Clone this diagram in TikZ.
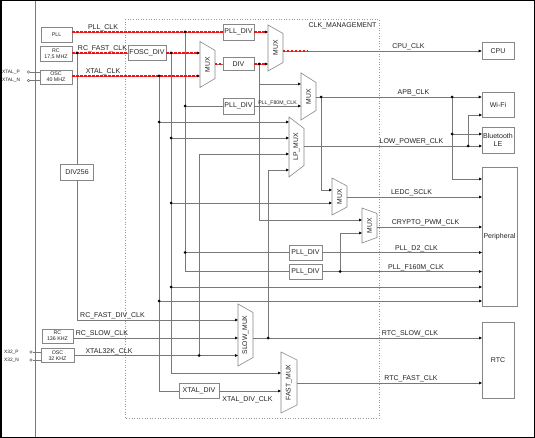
\documentclass[tikz,border=0pt]{standalone}
\usepackage{fontspec}
\setmainfont{Liberation Sans}
\usetikzlibrary{arrows.meta}
\definecolor{lc}{RGB}{120,120,120}
\definecolor{bc}{RGB}{135,135,135}
\definecolor{tc}{RGB}{35,35,35}
\definecolor{rd}{RGB}{235,20,20}
\newcommand\cmux[7]{%
  \draw[bcline] (#2,{#4-#5}) -- (#3,{#4-#6}) -- (#3,{#4+#6}) -- (#2,{#4+#5}) -- cycle;
  \node[muxt] (#1) at ({(#2+#3)/2},#4) {#7};}
\begin{document}
\begin{tikzpicture}[x=1pt,y=-1pt,
  ln/.style={draw=lc, line width=0.6pt},
  arr/.style={ln, -{Triangle[length=3pt,width=2.6pt,color=black]}},
  bcline/.style={draw=bc, line width=0.6pt, fill=white},
  box/.style={draw=bc, line width=0.6pt, fill=white, inner sep=0pt, font=\fontsize{7}{8}\selectfont, text=tc, align=center},
  src/.style={box, font=\fontsize{5.3}{6}\selectfont},
  muxt/.style={rotate=90, font=\fontsize{6.8}{8}\selectfont, text=tc, inner sep=0pt},
  lab/.style={font=\fontsize{7}{8}\selectfont, text=tc, inner sep=0.6pt, anchor=south},
  slab/.style={font=\fontsize{5.2}{6}\selectfont, text=tc, inner sep=0.6pt, anchor=south},
  pinlab/.style={font=\fontsize{4.8}{5}\selectfont, text=tc, inner sep=0pt, anchor=west},
  pinc/.style={circle, draw=lc, line width=0.5pt, fill=white, inner sep=0pt, minimum size=2.6pt},
  reddash/.style={draw=rd, line width=1.4pt, dash pattern=on 2.4pt off 1.6pt},
  jdot/.style={fill=black}
]
\useasboundingbox (0,0) rectangle (535,438);
\fill[white] (0,0) rectangle (535,438);
% frame
\draw[black, line width=1.5pt] (0.75,0.75) rectangle (534.25,437.25);
\draw[ln] (35,0.75) -- (35,437.25);
\draw[draw=black!40, dotted, line width=0.6pt] (125,19) rectangle (379,418);
\node[lab, anchor=center] (cmlab) at (342.5,25.5) {CLK\_MANAGEMENT};

% source boxes
\node[src, minimum width=31pt, minimum height=15pt] (pll) at (56.5,34.5) {PLL};
\node[src, minimum width=32pt, minimum height=15pt] (rcf) at (56,53.5) {RC\\17,5 MHZ};
\node[src, minimum width=32pt, minimum height=14pt] (osc40) at (56,77) {OSC\\40 MHZ};
\node[src, minimum width=31pt, minimum height=14pt] (rcs) at (57.5,336) {RC\\136 KHZ};
\node[src, minimum width=33pt, minimum height=14pt] (osc32) at (57.5,355.5) {OSC\\32 KHZ};
\node[box, minimum width=33pt, minimum height=16pt] (div256) at (77,172) {DIV256};

% pins
\node[pinc] (xp) at (28.5,72) {};
\node[pinc] (xn) at (28.5,80.5) {};
\node[pinc] (x32p) at (31,352) {};
\node[pinc] (x32n) at (31,360) {};
\node[pinlab] (lxp) at (2,72) {XTAL\_P};
\node[pinlab] (lxn) at (2,80.5) {XTAL\_N};
\node[pinlab] (lx32p) at (4,352) {X32\_P};
\node[pinlab] (lx32n) at (4,360) {X32\_N};
\draw[ln] (xp) -- (osc40.west |- xp);
\draw[ln] (xn) -- (osc40.west |- xn);
\draw[ln] (x32p) -- (osc32.west |- x32p);
\draw[ln] (x32n) -- (osc32.west |- x32n);

% inner boxes
\node[box, minimum width=38pt, minimum height=15pt] (foscdiv) at (147,53) {FOSC\_DIV};
\node[box, minimum width=31pt, minimum height=16pt] (plldiv1) at (238.5,32) {PLL\_DIV};
\node[box, minimum width=31pt, minimum height=13pt] (div) at (238.5,64) {DIV};
\node[box, minimum width=31pt, minimum height=16pt] (plldiv2) at (238.5,106) {PLL\_DIV};
\node[box, minimum width=33pt, minimum height=15pt] (plldiv3) at (305.5,252.5) {PLL\_DIV};
\node[box, minimum width=33pt, minimum height=15pt] (plldiv4) at (305.5,271.5) {PLL\_DIV};
\node[box, minimum width=40pt, minimum height=15pt] (xtaldiv) at (199,391) {XTAL\_DIV};

% destination boxes
\node[box, minimum width=32pt, minimum height=17pt] (cpu) at (498,51) {CPU};
\node[box, minimum width=32pt, minimum height=25pt] (wifi) at (498,104.5) {Wi-Fi};
\node[box, minimum width=32pt, minimum height=26pt] (bt) at (498,140) {Bluetooth\\LE};
\node[box, minimum width=35pt, minimum height=139pt] (periph) at (499.5,236.5) {Peripheral};
\node[box, minimum width=32pt, minimum height=76pt] (rtc) at (498,360) {RTC};

% muxes
\cmux{muxa}{200}{215}{64.5}{23}{14}{MUX}
\cmux{muxc}{268}{283}{48}{23}{14.5}{MUX}
\cmux{muxp}{301}{316}{96.5}{23.5}{14}{MUX}
\cmux{lpmux}{289}{304}{147}{30}{18.5}{LP\_MUX}
\cmux{muxl}{332}{347}{196.5}{18.5}{10.5}{MUX}
\cmux{muxr}{362}{377}{225.5}{17.5}{12}{MUX}
\cmux{slowmux}{238}{253}{335}{31}{22.5}{SLOW\_MUX}
\cmux{fastmux}{281}{297}{382.5}{30.5}{22.5}{FAST\_MUX}

% mux ports
\coordinate (m1a) at (200,53); \coordinate (m1b) at (200,76); \coordinate (m1o) at (215,64);
\coordinate (mca) at (268,32); \coordinate (mcb) at (268,64); \coordinate (mco) at (283,51);
\coordinate (maa) at (301,84); \coordinate (mab) at (301,106); \coordinate (mao) at (316,97);
\coordinate (lpa) at (289,122); \coordinate (lpb) at (289,138); \coordinate (lpc) at (289,154);
\coordinate (lpd) at (289,170); \coordinate (lpo) at (304,146);
\coordinate (lea) at (332,190); \coordinate (leb) at (332,203); \coordinate (leo) at (347,197);
\coordinate (cra) at (362,220); \coordinate (crb) at (362,233); \coordinate (cro) at (377,227);
\coordinate (sla) at (238,320); \coordinate (slb) at (238,338); \coordinate (slc) at (238,355.5);
\coordinate (slo) at (253,338);
\coordinate (faa) at (281,373); \coordinate (fab) at (281,391); \coordinate (fao) at (297,383);
\coordinate (cpured) at (308,51);
% destination ports
\coordinate (w2) at (482,115); \coordinate (b1) at (482,134); \coordinate (b2) at (482,146);
\coordinate (p1) at (482,179); \coordinate (p2) at (482,197); \coordinate (p3) at (482,227);
\coordinate (p4) at (482,252.5); \coordinate (p5) at (482,271.5); \coordinate (p6) at (482,287);
\coordinate (p7) at (482,301); \coordinate (r1) at (482,338); \coordinate (r2) at (482,383);
% junctions
\coordinate (j1) at (77,53); \coordinate (j2) at (159,76); \coordinate (j3) at (171,53);
\coordinate (j4) at (185,32); \coordinate (j5) at (259,64); \coordinate (j6) at (321,97);
\coordinate (j7) at (452,97); \coordinate (j8) at (468,146); \coordinate (j9) at (340,271.5);
\coordinate (j10) at (268,338); \coordinate (j11) at (199,355.5);

% connectors
\draw[ln] (pll.east |- plldiv1.west) -- (plldiv1.west);
\draw[ln] (rcf.east |- foscdiv.west) -- (foscdiv.west);
\draw[arr] (foscdiv.east) -- (m1a);
\draw[arr] (osc40.east |- m1b) -- (m1b);
\draw[ln] (m1o) -- (div.west);
\draw[arr] (plldiv1.east) -- (mca);
\draw[arr] (div.east) -- (mcb);
\draw[arr] (mco) -- (cpu.west |- mco);
\draw[arr] (j5) |- (maa);
\draw[arr] (j5) |- (cra);
\draw[ln] (j4) |- (plldiv2.west);
\draw[ln] (j4) |- (plldiv3.west);
\draw[ln] (j4) |- (plldiv4.west);
\draw[arr] (plldiv2.east) -- (mab);
\draw[arr] (mao) -- (wifi.west |- mao);
\draw[arr] (j6) |- (lea);
\draw[arr] (j7) |- (p1);
\draw[arr] (j7 |- b1) -- (b1);
\draw[ln] (j2) |- (xtaldiv.west);
\draw[arr] (j2 |- lpa) -- (lpa);
\draw[arr] (j2 |- p7) -- (p7);
\draw[arr] (j3) |- (faa);
\draw[arr] (j3 |- lpb) -- (lpb);
\draw[arr] (j3 |- leb) -- (leb);
\draw[arr] (j3 |- p6) -- (p6);
\draw[arr] (j11) |- (lpc);
\draw[arr] (j10) |- (lpd);
\draw[arr] (lpo) -- (b2);
\draw[arr] (j8) |- (w2);
\draw[arr] (leo) -- (p2);
\draw[arr] (cro) -- (p3);
\draw[arr] (plldiv3.east) -- (p4);
\draw[arr] (plldiv4.east) -- (p5);
\draw[arr] (j9) |- (crb);
\draw[ln] (j1) -- (div256.north);
\draw[arr] (div256.south) |- (sla);
\draw[arr] (rcs.east |- slb) -- (slb);
\draw[arr] (osc32.east |- slc) -- (slc);
\draw[arr] (slo) -- (r1);
\draw[arr] (xtaldiv.east) -- (fab);
\draw[arr] (fao) -- (r2);

% red highlighted path
\draw[reddash] (pll.east |- plldiv1.west) -- (plldiv1.west);
\draw[reddash, shorten >=3pt] (plldiv1.east) -- (mca);
\draw[reddash] (rcf.east |- foscdiv.west) -- (foscdiv.west);
\draw[reddash, shorten >=3pt] (foscdiv.east) -- (m1a);
\draw[reddash, shorten >=3pt] (osc40.east |- m1b) -- (m1b);
\draw[reddash] (m1o) -- (div.west);
\draw[reddash, shorten >=3pt] (div.east) -- (mcb);
\draw[reddash] (mco) -- (cpured);

% junction dots
\foreach \p in {j1,j2,j3,j4,j5,j6,j7,j8,j9,j10,j11}
  \fill[jdot] (\p) circle[radius=1.5pt];
\fill[jdot] (j4 |- plldiv2.west) circle[radius=1.5pt];
\fill[jdot] (j4 |- plldiv3.west) circle[radius=1.5pt];
\fill[jdot] (j2 |- lpa) circle[radius=1.5pt];
\fill[jdot] (j2 |- p7) circle[radius=1.5pt];
\fill[jdot] (j3 |- lpb) circle[radius=1.5pt];
\fill[jdot] (j3 |- leb) circle[radius=1.5pt];
\fill[jdot] (j3 |- p6) circle[radius=1.5pt];
\fill[jdot] (j7 |- b1) circle[radius=1.5pt];

% labels
\node[lab] (lpllclk) at (103,32) {PLL\_CLK};
\node[lab] (lrcfast) at (102.5,53) {RC\_FAST\_CLK};
\node[lab] (lxtal) at (103,76) {XTAL\_CLK};
\node[slab] (lf80) at (277.5,106) {PLL\_F80M\_CLK};
\node[lab] (lcpu) at (408.5,51) {CPU\_CLK};
\node[lab] (lapb) at (413.5,97) {APB\_CLK};
\node[lab] (llp) at (411.5,146) {LOW\_POWER\_CLK};
\node[lab] (lledc) at (411.5,197) {LEDC\_SCLK};
\node[lab] (lcry) at (425.5,227) {CRYPTO\_PWM\_CLK};
\node[lab] (ld2) at (416.5,252.5) {PLL\_D2\_CLK};
\node[lab] (lf160) at (416,271.5) {PLL\_F160M\_CLK};
\node[lab] (lrcfd) at (112.5,320) {RC\_FAST\_DIV\_CLK};
\node[lab] (lrcs) at (102,338) {RC\_SLOW\_CLK};
\node[lab] (lx32) at (109,355.5) {XTAL32K\_CLK};
\node[lab] (lrtcs) at (410,338) {RTC\_SLOW\_CLK};
\node[lab] (lrtcf) at (411,383) {RTC\_FAST\_CLK};
\node[lab, anchor=north] (lxdc) at (247.5,395.5) {XTAL\_DIV\_CLK};
\end{tikzpicture}
\end{document}
